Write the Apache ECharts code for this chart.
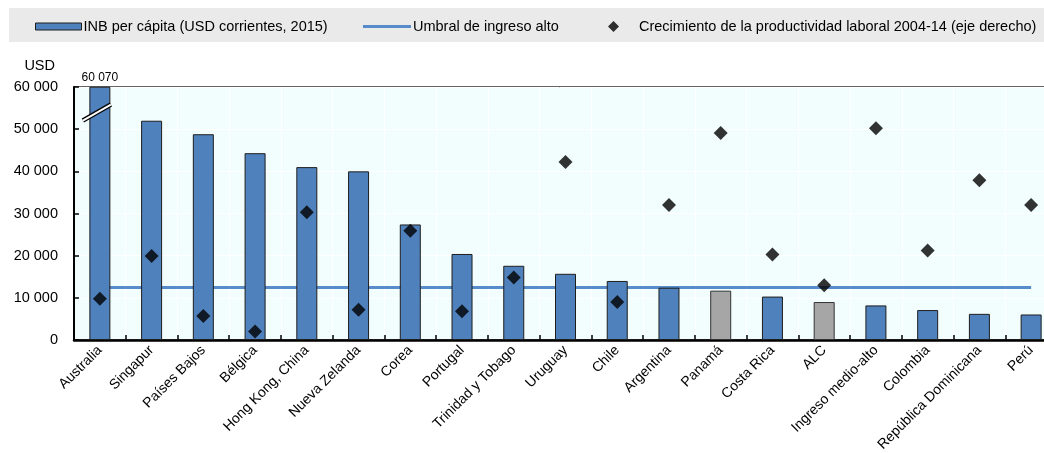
<!DOCTYPE html>
<html>
<head>
<meta charset="utf-8">
<script src="https://cdn.jsdelivr.net/npm/echarts@6/dist/echarts.min.js"></script>
<style>
html,body{margin:0;padding:0;background:#fff;}
#main{width:1044px;height:453px;}
</style>
</head>
<body>
<div id="main"></div>
<script>
const categories = ['Australia','Singapur','Países Bajos','Bélgica','Hong Kong, China','Nueva Zelanda','Corea','Portugal','Trinidad y Tobago','Uruguay','Chile','Argentina','Panamá','Costa Rica','ALC','Ingreso medio-alto','Colombia','República Dominicana','Perú'];
const gniPerCapita = [60070,52000,48800,44300,41000,40000,27400,20400,17600,15700,14000,12400,11700,10300,9000,8200,7100,6200,6050];
const highlighted = ['Panamá','ALC'];
const highIncomeThreshold = 12476;
const productivityGrowth = [9.8,19.9,5.7,2.0,30.3,7.2,25.9,6.8,14.8,42.2,9.0,32.0,49.1,20.3,13.0,50.2,21.2,37.9,32.0];
const yTicks = [0,10000,20000,30000,40000,50000,60000];

const FONT = '"Liberation Sans", Arial, sans-serif';
const barName = 'INB per cápita (USD corrientes, 2015)';
const lineName = 'Umbral de ingreso alto';
const dotName = 'Crecimiento de la productividad laboral 2004-14 (eje derecho)';
const fmt = v => String(v).replace(/\B(?=(\d{3})+(?!\d))/g, ' ');

const chart = echarts.init(document.getElementById('main'), null, {renderer:'canvas'});
const legendText = {fontFamily:FONT, fontSize:14.5, color:'#000'};
const option = {
  animation: false,
  backgroundColor: '#ffffff',
  textStyle: {fontFamily: FONT},
  legend: [
    {data:[{name:barName, icon:'rect'}], left:35, top:19, padding:0, itemWidth:46, itemHeight:7,
     itemStyle:{borderWidth:1, borderColor:'#1e1e1e'},
     textStyle:Object.assign({padding:[0,0,0,-3]}, legendText)},
    {data:[{name:lineName, icon:'rect'}], left:363, top:19, padding:0, itemWidth:48, itemHeight:3,
     textStyle:Object.assign({padding:[0,0,0,-3]}, legendText)},
    {data:[{name:dotName, icon:'diamond'}], left:608, top:19, padding:0, itemWidth:11, itemHeight:11,
     textStyle:Object.assign({padding:[0,0,0,15]}, legendText)}
  ],
  grid: {left:74, top:87, width:983, bottom:113, containLabel:false, outerBoundsMode:'none', show:true, backgroundColor:'#F2FDFD', borderColor:'#333', borderWidth:1.5},
  xAxis: {
    type:'category', data:categories, boundaryGap:true,
    axisLine:{show:true, onZero:false, lineStyle:{color:'#000', width:2.5}},
    axisTick:{show:true, inside:true, length:5, lineStyle:{color:'#000', width:1.5}},
    splitLine:{show:true, lineStyle:{color:'#ffffff', width:1}},
    axisLabel:{interval:0, rotate:45, margin:8, color:'#000', fontFamily:FONT, fontSize:14}
  },
  yAxis: [
    {type:'value', min:yTicks[0], max:yTicks[yTicks.length-1], interval:10000,
     name:'USD', nameLocation:'end', nameGap:14, nameTextStyle:{fontFamily:FONT, fontSize:14.5, color:'#000', align:'right', padding:[0,19,0,0]},
     axisLine:{show:true, lineStyle:{color:'#000', width:2}},
     axisTick:{show:true, inside:true, length:5, lineStyle:{color:'#000', width:1.5}},
     splitLine:{show:true, lineStyle:{color:'#ffffff', width:1}},
     axisLabel:{margin:16, color:'#000', fontFamily:FONT, fontSize:14.5, formatter:fmt}},
    {type:'value', min:0, max:60, interval:10, show:false, splitLine:{show:false}}
  ],
  series: [
    {name:lineName, type:'line', yAxisIndex:0, z:1, symbol:'none', showSymbol:false,
     data:categories.map(()=>highIncomeThreshold),
     lineStyle:{color:'#588BC9', width:3}, itemStyle:{color:'#588BC9'}},
    {name:barName, type:'bar', yAxisIndex:0, z:2, barWidth:21,
     itemStyle:{color:'#4F81BD', borderColor:'#1e1e1e', borderWidth:1},
     data: gniPerCapita.map((v,i)=>{
       const d = {value:v};
       if (highlighted.includes(categories[i])) d.itemStyle = {color:'#A6A6A6', borderColor:'#333'};
       if (i===0) d.label = {show:true, position:'top', distance:3, formatter:fmt(v), fontFamily:FONT, fontSize:12, color:'#000'};
       return d;
     })},
    {name:dotName, type:'scatter', yAxisIndex:1, z:3, symbol:'diamond', symbolSize:14,
     itemStyle:{color:'#000'}, data:productivityGrowth}
  ]
};
chart.setOption(option);

// axis-break marks on the first (truncated) bar
const p = chart.convertToPixel({xAxisIndex:0, yAxisIndex:0}, [categories[0], 54300]);
const brk = (dy, w, c) => ({type:'line', z:50, shape:{x1:p[0]-17, y1:p[1]+8+dy, x2:p[0]+11, y2:p[1]-8+dy}, style:{stroke:c, lineWidth:w}});
chart.setOption({graphic:[
  {type:'rect', z:-10, shape:{x:9, y:8, width:1040, height:34}, style:{fill:'#EAEAEA'}},
  brk(1.5, 4.5, '#000'), brk(1.5, 2, '#ffffff')
]});
</script>
</body>
</html>
